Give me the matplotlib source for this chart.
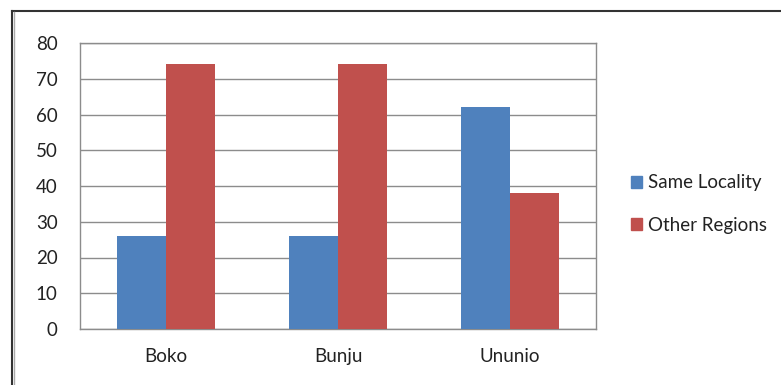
import matplotlib.pyplot as plt
import numpy as np
from matplotlib.lines import Line2D
from matplotlib.patches import Patch

plt.rcParams['font.family'] = ['Lato', 'DejaVu Sans']

categories = ["Boko", "Bunju", "Ununio"]
same_locality = [26, 26, 62]
other_regions = [74, 74, 38]
yticks = [0, 10, 20, 30, 40, 50, 60, 70, 80]

BLUE = "#4F81BD"
RED = "#C0504D"
GRID = "#8C8C8C"

fig = plt.figure(figsize=(7.81, 3.85), dpi=100)
ax = fig.add_axes([80 / 781, 56 / 385, 516 / 781, 286 / 385])

x = np.arange(len(categories))
w = 1 / 3.5
ax.bar(x - w / 2, same_locality, w, color=BLUE, zorder=3)
ax.bar(x + w / 2, other_regions, w, color=RED, zorder=3)

ax.set_xlim(-0.5, len(categories) - 0.5)
ax.set_ylim(0, 80)
ax.set_yticks(yticks)
ax.set_xticks(x)
ax.set_xticklabels(categories)
ax.yaxis.grid(True, color=GRID, linewidth=1, zorder=0)
ax.tick_params(axis='both', length=0, labelsize=13.5, colors="#222222")
ax.tick_params(axis='y', pad=16)
ax.tick_params(axis='x', pad=14)
for s in ax.spines.values():
    s.set_color(GRID)
    s.set_linewidth(1)

handles = [Patch(color=BLUE, label="Same Locality"),
           Patch(color=RED, label="Other Regions")]
fig.legend(handles=handles, loc="center left", bbox_to_anchor=(614 / 781, 1 - 204 / 385),
           frameon=False, fontsize=13.5, handlelength=0.6, handleheight=0.6,
           handletextpad=0.3, labelspacing=1.35, labelcolor="#222222")

# outer chart frame (only top and left edges are visible)
fig.add_artist(Line2D([12 / 781, 1], [1 - 11 / 385, 1 - 11 / 385], color="#333333", linewidth=1.5))
fig.add_artist(Line2D([12 / 781, 12 / 781], [0, 1 - 11 / 385], color="#333333", linewidth=1.5))
fig.add_artist(Line2D([14 / 781, 14 / 781], [0, 1 - 12 / 385], color="#AAAAAA", linewidth=1))

fig.savefig("out.png", dpi=100)
